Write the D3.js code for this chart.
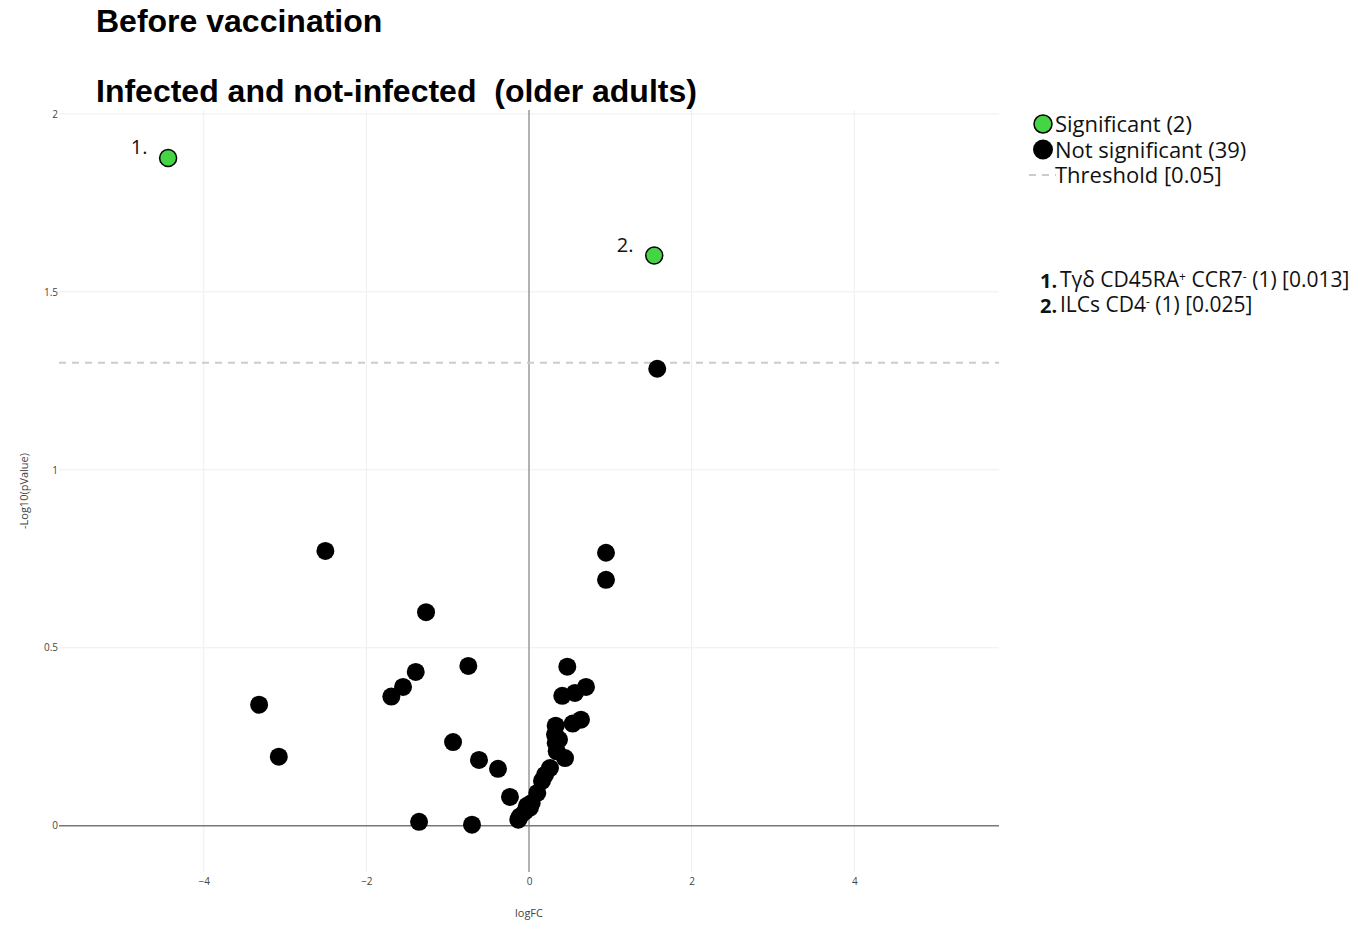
<!DOCTYPE html>
<html>
<head>
<meta charset="utf-8">
<script src="https://cdn.jsdelivr.net/npm/d3@7"></script>
<style>
  html, body { margin: 0; padding: 0; background: #fff; }
  svg { display: block; }
</style>
</head>
<body>
<svg id="chart" width="1364" height="925"></svg>
<script>
// ---------- data ----------
const titles = ["Before vaccination", "Infected and not-infected  (older adults)"];
const xTicks = [-4, -2, 0, 2, 4];
const yTicks = [0, 0.5, 1, 1.5, 2];
const threshold = 0.05;

// significant points (logFC, -log10 p)
const sigLogFC = [-4.438, 1.540];
const sigNegLogP = [1.876, 1.602];
const sigLabels = ["1.", "2."];

// not-significant points
const nsLogFC = [
  1.577, -2.504, 0.947, 0.947, -1.266, -1.393, -0.746, -1.549, -1.693, -3.319,
  -3.077, -0.934, -0.615, -0.381, -1.352, -0.701, -0.234,
  0.471, 0.409, 0.565, 0.701, 0.639, 0.537, 0.328, 0.320, 0.369, 0.328,
  0.341, 0.443, 0.258, 0.197, 0.160, 0.102, 0.033, -0.025, 0.012, -0.049,
  -0.111, -0.132
];
const nsNegLogP = [
  1.284, 0.772, 0.767, 0.691, 0.600, 0.432, 0.449, 0.390, 0.363, 0.340,
  0.194, 0.235, 0.185, 0.160, 0.011, 0.003, 0.081,
  0.447, 0.365, 0.373, 0.390, 0.298, 0.287, 0.281, 0.256, 0.242, 0.233,
  0.209, 0.190, 0.162, 0.143, 0.126, 0.092, 0.064, 0.056, 0.051, 0.040,
  0.026, 0.017
];

const legendLabels = [
  "Significant (" + sigLogFC.length + ")",
  "Not significant (" + nsLogFC.length + ")",
  "Threshold [" + threshold + "]"
];
// significant annotations: parts as [text, isSup]
const annNames = [
  [["Tγδ CD45RA", false], ["+", true], [" CCR7", false], ["-", true], [" (1) [0.013]", false]],
  [["ILCs CD4", false], ["-", true], [" (1) [0.025]", false]]
];

// ---------- layout ----------
const plot = { left: 59, right: 999, top: 110, bottom: 872 };
const green = "#44d444";
const sans = "'Open Sans', 'Noto Sans', sans-serif";

const svg = d3.select("#chart");

const x = d3.scaleLinear().domain([-5.78, 5.78]).range([plot.left, plot.right]);
const y = d3.scaleLinear().domain([-0.13, 2.011]).range([plot.bottom, plot.top]);

// gridlines
const g = svg.append("g");
g.selectAll("line.xg").data(xTicks.filter(d => d !== 0)).join("line")
  .attr("x1", d => x(d)).attr("x2", d => x(d))
  .attr("y1", plot.top).attr("y2", plot.bottom)
  .attr("stroke", "#eeeeee").attr("stroke-width", 1);
g.selectAll("line.yg").data(yTicks.filter(d => d !== 0)).join("line")
  .attr("x1", plot.left).attr("x2", plot.right)
  .attr("y1", d => y(d)).attr("y2", d => y(d))
  .attr("stroke", "#eeeeee").attr("stroke-width", 1);

// zero lines
g.append("line").attr("x1", x(0)).attr("x2", x(0))
  .attr("y1", plot.top).attr("y2", plot.bottom)
  .attr("stroke", "#999").attr("stroke-width", 1.5);
g.append("line").attr("x1", plot.left).attr("x2", plot.right)
  .attr("y1", y(0)).attr("y2", y(0))
  .attr("stroke", "#777").attr("stroke-width", 1.5);

// threshold line
g.append("line").attr("x1", plot.left).attr("x2", plot.right)
  .attr("y1", y(-Math.log10(threshold))).attr("y2", y(-Math.log10(threshold)))
  .attr("stroke", "#cccccc").attr("stroke-width", 2)
  .attr("stroke-dasharray", "7,6");

// axes (tick labels only)
const xAxis = d3.axisBottom(x).tickValues(xTicks).tickSize(0).tickPadding(0)
  .tickFormat(d3.format("d"));
const xa = svg.append("g").attr("transform", `translate(0,${plot.bottom + 6})`).call(xAxis);
xa.select(".domain").remove();
xa.selectAll("text").attr("font-family", sans).attr("font-size", 10).attr("fill", "#444")
  .text(d => d < 0 ? "\u2212" + Math.abs(d) : String(d));

const yAxis = d3.axisLeft(y).tickValues(yTicks).tickSize(0).tickPadding(0)
  .tickFormat(d => String(d));
const ya = svg.append("g").attr("transform", `translate(${plot.left - 1},0)`).call(yAxis);
ya.select(".domain").remove();
ya.selectAll("text").attr("font-family", sans).attr("font-size", 10).attr("fill", "#444");

// axis titles
svg.append("text").attr("x", (plot.left + plot.right) / 2).attr("y", 917)
  .attr("text-anchor", "middle").attr("font-family", sans).attr("font-size", 11)
  .attr("fill", "#444").text("logFC");
svg.append("text").attr("transform", `translate(28,${(plot.top + plot.bottom) / 2}) rotate(-90)`)
  .attr("text-anchor", "middle").attr("font-family", sans).attr("font-size", 11)
  .attr("fill", "#444").text("-Log10(pValue)");

// points
const ns = nsLogFC.map((v, i) => ({ x: v, y: nsNegLogP[i] }));
const sig = sigLogFC.map((v, i) => ({ x: v, y: sigNegLogP[i], label: sigLabels[i] }));

svg.append("g").selectAll("circle").data(ns).join("circle")
  .attr("cx", d => x(d.x)).attr("cy", d => y(d.y)).attr("r", 9)
  .attr("fill", "#000");
svg.append("g").selectAll("circle").data(sig).join("circle")
  .attr("cx", d => x(d.x)).attr("cy", d => y(d.y)).attr("r", 8.5)
  .attr("fill", green).attr("stroke", "#000").attr("stroke-width", 1.5);

svg.append("g").selectAll("text").data(sig).join("text")
  .attr("x", d => x(d.x) - 29).attr("y", d => y(d.y) - 4)
  .attr("text-anchor", "middle").attr("font-family", sans).attr("font-size", 20)
  .attr("fill", "#111").text(d => d.label);

// titles
svg.append("g").selectAll("text").data(titles).join("text")
  .attr("x", 96).attr("y", (d, i) => 32 + i * 70)
  .attr("font-family", "'Liberation Sans', Arial, sans-serif")
  .attr("font-weight", "bold").attr("font-size", 32).attr("fill", "#000")
  .style("white-space", "pre").text(d => d);

// legend
const lg = svg.append("g").attr("font-family", sans).attr("font-size", 22).attr("fill", "#111");
lg.append("circle").attr("cx", 1043).attr("cy", 124).attr("r", 9)
  .attr("fill", green).attr("stroke", "#000").attr("stroke-width", 1.5);
lg.append("circle").attr("cx", 1043).attr("cy", 149.5).attr("r", 10).attr("fill", "#000");
lg.append("line").attr("x1", 1029).attr("x2", 1056).attr("y1", 175).attr("y2", 175)
  .attr("stroke", "#cccccc").attr("stroke-width", 2).attr("stroke-dasharray", "7,6");
lg.selectAll("text").data(legendLabels).join("text")
  .attr("x", 1055).attr("y", (d, i) => 132 + i * 25.5).text(d => d);

// significant annotations list
const an = svg.append("g").attr("font-family", sans).attr("font-size", 21).attr("fill", "#111");
annNames.forEach((parts, i) => {
  const yy = 286.5 + i * 25;
  an.append("text").attr("x", 1040).attr("y", yy + 1).attr("font-weight", "bold")
    .attr("font-size", 20).text(sigLabels[i]);
  const t = an.append("text").attr("x", 1060).attr("y", yy);
  parts.forEach(([txt, sup], k) => {
    const ts = t.append("tspan").text(txt).style("white-space", "pre");
    if (sup) ts.attr("font-size", 12).attr("dy", -6);
    else if (k > 0) ts.attr("dy", 6);
  });
});
</script>
</body>
</html>
